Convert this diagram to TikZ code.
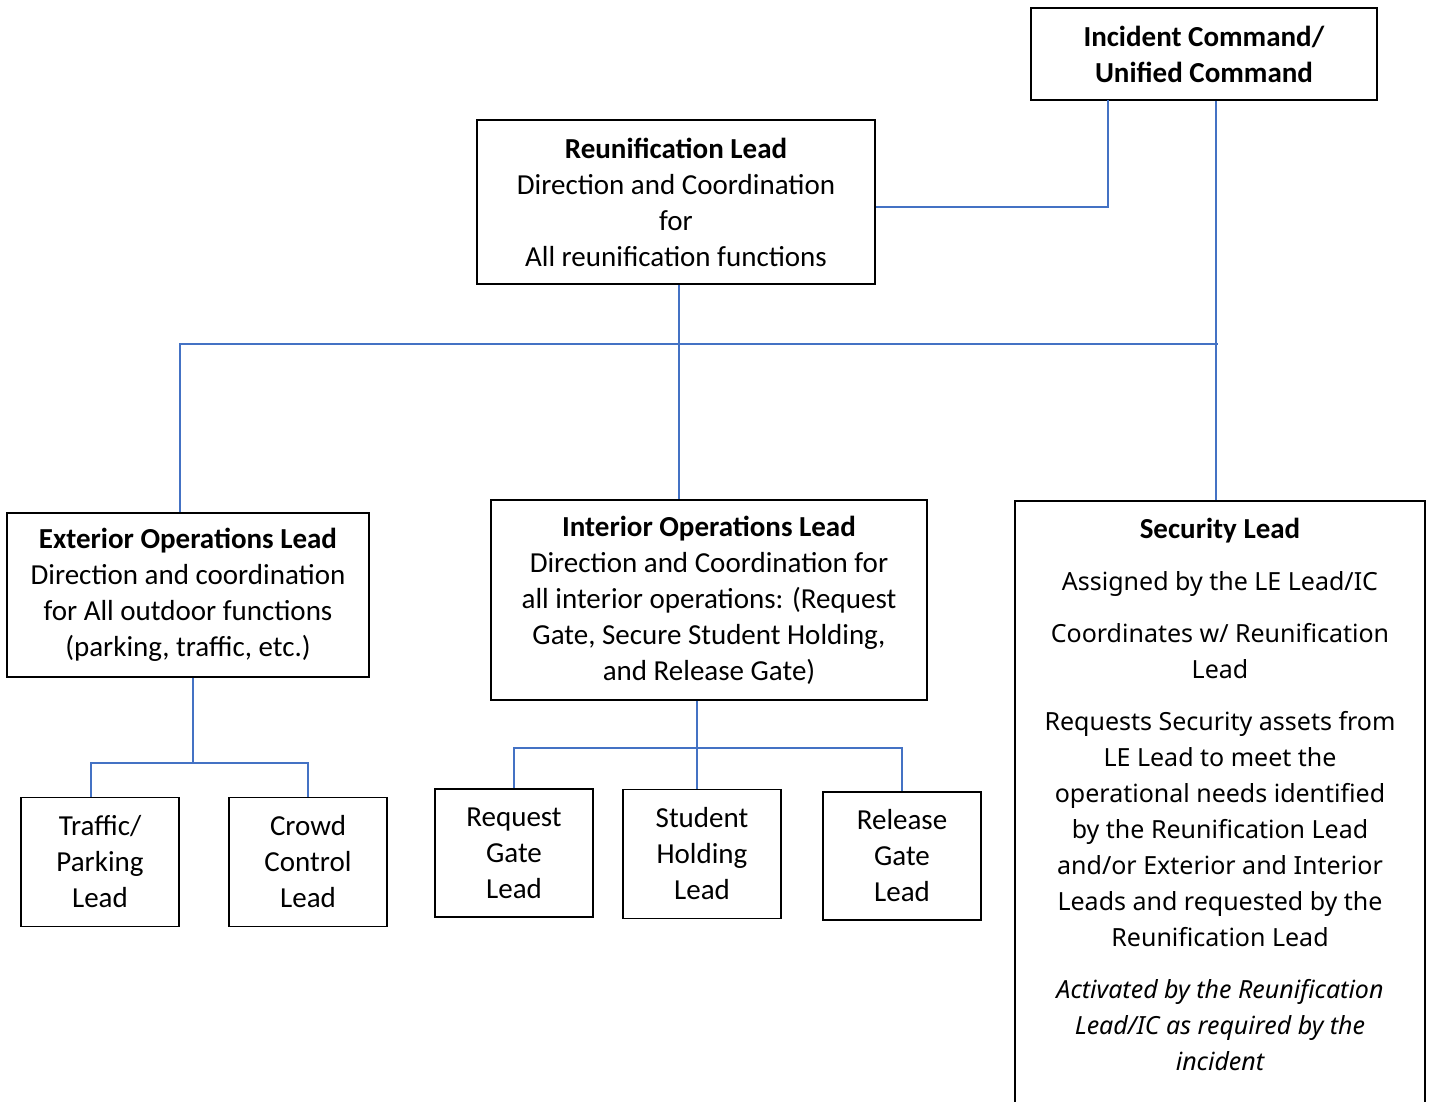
\documentclass[tikz,border=0pt]{standalone}
\usepackage{fontspec}
\setmainfont{Carlito}
\newfontfamily\secfont{Noto Sans}
\usetikzlibrary{positioning}
\definecolor{linkblue}{HTML}{4472C4}
\tikzset{
  box/.style={draw=black,line width=1.6pt,align=center,inner sep=0pt,font=\fontsize{29}{36}\selectfont},
  link/.style={draw=linkblue,line width=1.3pt},
}
\begin{document}
\begin{tikzpicture}[x=1pt,y=-1pt]
    \useasboundingbox (0,0) rectangle (1432,1101);
    % top level
    \node (ic) at (1204,54) [box,minimum width=346pt,minimum height=92pt] {\textbf{Incident Command/}\\\textbf{Unified Command}};
    \node (reun) at (676,202) [box,minimum width=398pt,minimum height=164pt] {\textbf{Reunification Lead}\\Direction and Coordination\\for\\All reunification functions};
    % leads
    \node (ext) at (188,595) [box,minimum width=362pt,minimum height=164pt] {\textbf{Exterior Operations Lead}\\Direction and coordination\\for All outdoor functions\\(parking, traffic, etc.)};
    \node (int) at (709,600) [box,minimum width=436pt,minimum height=200pt] {\textbf{Interior Operations Lead}\\Direction and Coordination for\\all interior operations: (Request\\Gate, Secure Student Holding,\\and Release Gate)};
    \node (sec) at (1220,500) [box,anchor=north,minimum width=410pt,minimum height=640pt] {};
    \node (sectext) [below=15pt of sec.north,align=center,font=\secfont\fontsize{25}{36}\selectfont] {{\fontsize{29}{36}\rmfamily\bfseries Security Lead}\\[16pt]Assigned by the LE Lead/IC\\[16pt]Coordinates w/ Reunification\\Lead\\[16pt]Requests Security assets from\\LE Lead to meet the\\operational needs identified\\by the Reunification Lead\\and/or Exterior and Interior\\Leads and requested by the\\Reunification Lead\\[16pt]\itshape Activated by the Reunification\\\itshape Lead/IC as required by the\\\itshape incident};
    % sub leads
    \node (traffic) at (100,862) [box,minimum width=158pt,minimum height=129pt] {Traffic/\\Parking\\Lead};
    \node (crowd) at (308,862) [box,minimum width=158pt,minimum height=129pt] {Crowd\\Control\\Lead};
    \node (request) at (514,853) [box,minimum width=158pt,minimum height=128pt] {Request\\Gate\\Lead};
    \node (student) at (702,854) [box,minimum width=158pt,minimum height=129pt] {Student\\Holding\\Lead};
    \node (release) at (902,856) [box,minimum width=158pt,minimum height=128pt] {Release\\Gate\\Lead};
    % connectors
    \coordinate (icl) at (1108,100);
    \coordinate (bus) at (180,344);
    \coordinate (extbus) at (193,763);
    \coordinate (intbus) at (697,748);
    \draw[link] ([yshift=-5pt]reun.east) -| (icl);
    \draw[link] ([xshift=-4pt]sec.north |- ic.south) -- ([xshift=-4pt]sec.north);
    \draw[link] (bus |- ext.north) -- (bus) -- ([xshift=-2pt]bus -| sec.north);
    \draw[link] ([xshift=3pt]reun.south) -- ([xshift=3pt]reun.south |- int.north);
    \draw[link] (ext.south -| extbus) -- (extbus);
    \draw[link] ([xshift=-9pt]traffic.north) |- (crowd.north |- extbus) -- (crowd.north);
    \draw[link] (int.south -| intbus) -- (intbus |- student.north);
    \draw[link] (request.north) |- (release.north |- intbus) -- (release.north);
\end{tikzpicture}
\end{document}
